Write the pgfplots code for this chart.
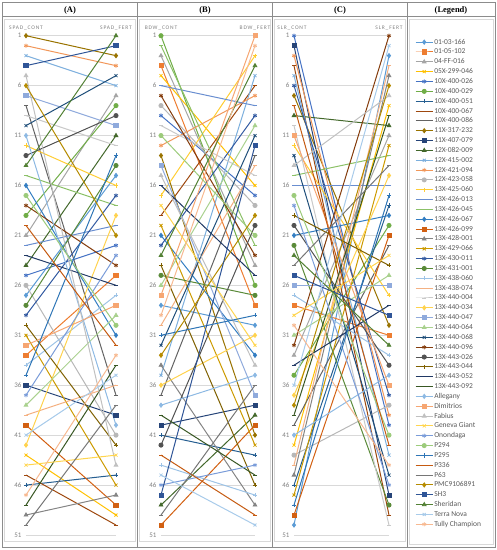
\documentclass[border=0pt]{standalone}
\usepackage{fontspec}
\setmainfont{Carlito}
\newfontfamily\hdrfont{Liberation Serif}
\newfontfamily\ttlfont[LetterSpace=15]{Carlito}
\usepackage{pgfplots}
\pgfplotsset{compat=1.18}
\definecolor{gridc}{HTML}{D9D9D9}
\definecolor{tickc}{HTML}{808080}
\definecolor{framec}{HTML}{8C8C8C}
\definecolor{areac}{HTML}{D9D9D9}
\definecolor{legtext}{HTML}{595959}
\newcommand\defg[3]{\definecolor{c#1}{HTML}{#2}\tikzset{g#1/.style={color=c#1,line width=1pt,mark=#3,mark size=2.1pt,mark options={solid,fill=c#1,line width=0.8pt}}}}
\defg{1}{5B9BD5}{diamond*}
\defg{2}{ED7D31}{square*}
\defg{3}{A5A5A5}{triangle*}
\defg{4}{FFC000}{x}
\defg{5}{4472C4}{asterisk}
\defg{6}{70AD47}{*}
\defg{7}{255E91}{+}
\defg{8}{9E480E}{-}
\defg{9}{636363}{-}
\defg{10}{997300}{diamond*}
\defg{11}{264478}{square*}
\defg{12}{43682B}{triangle*}
\defg{13}{7CAFDD}{x}
\defg{14}{F1975A}{asterisk}
\defg{15}{B7B7B7}{*}
\defg{16}{FFCD33}{+}
\defg{17}{698ED0}{-}
\defg{18}{8CC168}{-}
\defg{19}{327DC2}{diamond*}
\defg{20}{D26012}{square*}
\defg{21}{848484}{triangle*}
\defg{22}{CC9A00}{x}
\defg{23}{335AA1}{asterisk}
\defg{24}{5A8A39}{*}
\defg{25}{9DC3E6}{+}
\defg{26}{F4B183}{-}
\defg{27}{C9C9C9}{-}
\defg{28}{FFD24D}{diamond*}
\defg{29}{8FAADC}{square*}
\defg{30}{A9D18E}{triangle*}
\defg{31}{1F4E79}{x}
\defg{32}{843C0C}{asterisk}
\defg{33}{525252}{*}
\defg{34}{7F6000}{+}
\defg{35}{203864}{-}
\defg{36}{385723}{-}
\defg{37}{8DB9E3}{diamond*}
\defg{38}{F6A672}{square*}
\defg{39}{C0C0C0}{triangle*}
\defg{40}{FFD54F}{x}
\defg{41}{7A9CD9}{asterisk}
\defg{42}{9CCB7B}{*}
\defg{43}{2E75B6}{+}
\defg{44}{C55A11}{-}
\defg{45}{767676}{-}
\defg{46}{B58B00}{diamond*}
\defg{47}{2F5597}{square*}
\defg{48}{538135}{triangle*}
\defg{49}{A8CBEA}{x}
\defg{50}{F7B991}{asterisk}
\newcommand\SP[3]{\addplot[g#1] coordinates {(0,#2) (1,#3)};}
\pgfplotsset{panel/.style={scale only axis, height=499.3pt, xmin=0, xmax=1, ymin=1, ymax=51,
  y dir=reverse, clip=false, axis line style={draw=none}, xtick=\empty, ytick={1,6,...,51},
  ymajorgrids, grid style={draw=gridc, line width=0.75pt}, major tick length=0pt,
  yticklabel style={font=\fontsize{7}{8}\selectfont, text=tickc, xshift=-1pt},
  /pgf/number format/assume math mode=true, anchor=north west}}
\newcommand\ttl{\ttlfont\fontsize{5.5}{6}\selectfont}
\begin{document}
\begin{tikzpicture}
\path (0pt,0pt) rectangle (497pt,550pt);
% chart area borders
\draw[areac, line width=0.6pt] (4.5pt,8.5pt) rectangle (135.5pt,531pt);
\draw[areac, line width=0.6pt] (139.5pt,8.5pt) rectangle (270.5pt,531pt);
\draw[areac, line width=0.6pt] (274.5pt,8.5pt) rectangle (405.5pt,531pt);
\draw[areac, line width=0.6pt] (409.5pt,6pt) rectangle (493pt,531pt);
% panel A
\begin{axis}[panel, at={(26pt,514.3pt)}, width=90pt]
\node[font=\ttl, text=tickc, anchor=base] at ([yshift=6pt]axis description cs:0,1) {SPAD\_CONT};
\node[font=\ttl, text=tickc, anchor=base] at ([yshift=6pt]axis description cs:1,1) {SPAD\_FERT};
\SP{1}{27}{15}\SP{2}{33}{25}\SP{3}{21}{7}\SP{4}{43}{49}\SP{5}{25}{22}
\SP{6}{19}{8}\SP{7}{46}{45}\SP{8}{45}{50}\SP{9}{8}{37}\SP{10}{1}{3}
\SP{11}{36}{39}\SP{12}{24}{11}\SP{13}{3}{6}\SP{14}{2}{4}\SP{15}{26}{41}
\SP{16}{12}{16}\SP{17}{22}{20}\SP{18}{15}{18}\SP{19}{16}{31}\SP{20}{40}{48}
\SP{21}{49}{47}\SP{22}{31}{46}\SP{23}{29}{17}\SP{24}{28}{14}\SP{25}{34}{27}
\SP{26}{39}{36}\SP{27}{9}{12}\SP{28}{42}{19}\SP{29}{7}{10}\SP{30}{38}{29}
\SP{31}{10}{5}\SP{32}{18}{24}\SP{33}{13}{9}\SP{34}{30}{42}\SP{35}{23}{26}
\SP{36}{48}{34}\SP{37}{11}{40}\SP{38}{32}{28}\SP{39}{5}{44}\SP{40}{44}{43}
\SP{41}{37}{23}\SP{42}{17}{30}\SP{43}{35}{13}\SP{44}{20}{32}\SP{45}{50}{38}
\SP{46}{6}{21}\SP{47}{4}{2}\SP{48}{14}{1}\SP{49}{41}{35}\SP{50}{47}{33}
\end{axis}
% panel B
\begin{axis}[panel, at={(161pt,514.3pt)}, width=94pt]
\node[font=\ttl, text=tickc, anchor=base] at ([yshift=6pt]axis description cs:0,1) {BDW\_CONT};
\node[font=\ttl, text=tickc, anchor=base] at ([yshift=6pt]axis description cs:1,1) {BDW\_FERT};
\SP{1}{28}{30}\SP{2}{4}{28}\SP{3}{3}{24}\SP{4}{5}{16}\SP{5}{9}{17}
\SP{6}{1}{26}\SP{7}{41}{43}\SP{8}{19}{6}\SP{9}{37}{13}\SP{10}{13}{41}
\SP{11}{40}{38}\SP{12}{48}{39}\SP{13}{35}{5}\SP{14}{12}{7}\SP{15}{8}{18}
\SP{16}{17}{3}\SP{17}{6}{8}\SP{18}{2}{22}\SP{19}{21}{33}\SP{20}{50}{40}
\SP{21}{34}{48}\SP{22}{20}{42}\SP{23}{22}{9}\SP{24}{25}{27}\SP{25}{44}{47}
\SP{26}{30}{14}\SP{27}{10}{15}\SP{28}{36}{31}\SP{29}{14}{37}\SP{30}{26}{10}
\SP{31}{32}{11}\SP{32}{7}{23}\SP{33}{42}{20}\SP{34}{24}{46}\SP{35}{16}{25}
\SP{36}{39}{45}\SP{37}{38}{35}\SP{38}{27}{1}\SP{39}{15}{34}\SP{40}{18}{32}
\SP{41}{46}{44}\SP{42}{11}{21}\SP{43}{31}{29}\SP{44}{43}{49}\SP{45}{49}{36}
\SP{46}{33}{19}\SP{47}{47}{12}\SP{48}{23}{4}\SP{49}{45}{50}\SP{50}{29}{2}
\end{axis}
% panel C
\begin{axis}[panel, at={(294pt,514.3pt)}, width=95pt]
\node[font=\ttl, text=tickc, anchor=base] at ([xshift=-2pt,yshift=6pt]axis description cs:0,1) {SLR\_CONT};
\node[font=\ttl, text=tickc, anchor=base] at ([yshift=6pt]axis description cs:1,1) {SLR\_FERT};
\SP{1}{50}{3}\SP{2}{28}{31}\SP{3}{33}{11}\SP{4}{42}{8}\SP{5}{1}{40}
\SP{6}{35}{20}\SP{7}{46}{18}\SP{8}{4}{49}\SP{9}{40}{22}\SP{10}{7}{30}
\SP{11}{2}{47}\SP{12}{9}{10}\SP{13}{5}{43}\SP{14}{3}{39}\SP{15}{43}{38}
\SP{16}{12}{27}\SP{17}{16}{16}\SP{18}{15}{13}\SP{19}{21}{19}\SP{20}{49}{21}
\SP{21}{45}{5}\SP{22}{47}{12}\SP{23}{6}{37}\SP{24}{22}{48}\SP{25}{27}{33}
\SP{26}{44}{4}\SP{27}{10}{50}\SP{28}{37}{15}\SP{29}{26}{26}\SP{30}{31}{25}
\SP{31}{13}{45}\SP{32}{32}{1}\SP{33}{20}{34}\SP{34}{19}{24}\SP{35}{34}{28}
\SP{36}{39}{9}\SP{37}{41}{35}\SP{38}{11}{36}\SP{39}{14}{7}\SP{40}{29}{23}
\SP{41}{18}{46}\SP{42}{17}{41}\SP{43}{48}{17}\SP{44}{8}{42}\SP{45}{24}{14}
\SP{46}{38}{6}\SP{47}{25}{29}\SP{48}{23}{32}\SP{49}{36}{2}\SP{50}{30}{44}
\end{axis}
% legend
\begin{axis}[at={(0pt,0pt)}, anchor=south west, scale only axis, width=497pt, height=550pt,
  hide axis, xmin=0, xmax=1, ymin=0, ymax=1, legend cell align=left,
  legend style={at={(0.835,0.931)}, anchor=north west, draw=none, fill=none, inner sep=0pt,
    row sep=1.84pt, font=\fontsize{7.5}{8}\selectfont, text=legtext,
    nodes={inner ysep=0pt, inner xsep=1pt, text height=6pt, text depth=2pt}}]
\addlegendimage{g1}\addlegendimage{g2}\addlegendimage{g3}\addlegendimage{g4}\addlegendimage{g5}
\addlegendimage{g6}\addlegendimage{g7}\addlegendimage{g8}\addlegendimage{g9}\addlegendimage{g10}
\addlegendimage{g11}\addlegendimage{g12}\addlegendimage{g13}\addlegendimage{g14}\addlegendimage{g15}
\addlegendimage{g16}\addlegendimage{g17}\addlegendimage{g18}\addlegendimage{g19}\addlegendimage{g20}
\addlegendimage{g21}\addlegendimage{g22}\addlegendimage{g23}\addlegendimage{g24}\addlegendimage{g25}
\addlegendimage{g26}\addlegendimage{g27}\addlegendimage{g28}\addlegendimage{g29}\addlegendimage{g30}
\addlegendimage{g31}\addlegendimage{g32}\addlegendimage{g33}\addlegendimage{g34}\addlegendimage{g35}
\addlegendimage{g36}\addlegendimage{g37}\addlegendimage{g38}\addlegendimage{g39}\addlegendimage{g40}
\addlegendimage{g41}\addlegendimage{g42}\addlegendimage{g43}\addlegendimage{g44}\addlegendimage{g45}
\addlegendimage{g46}\addlegendimage{g47}\addlegendimage{g48}\addlegendimage{g49}\addlegendimage{g50}
\legend{01-03-166,01-05-102,04-FF-016,05X-299-046,10X-400-026,10X-400-029,10X-400-051,10X-400-067,10X-400-086,11X-317-232,
11X-407-079,12X-082-009,12X-415-002,12X-421-094,12X-423-058,13X-425-060,13X-426-013,13X-426-045,13X-426-067,13X-426-099,
13X-428-001,13X-429-066,13X-430-011,13X-431-001,13X-438-060,13X-438-074,13X-440-004,13X-440-034,13X-440-047,13X-440-064,
13X-440-068,13X-440-096,13X-443-026,13X-443-044,13X-443-052,13X-443-092,Allegany,Dimitrios,Fabius,Geneva Giant,
Onondaga,P294,P295,P336,P63,PMC9106891,SH3,Sheridan,Terra Nova,Tully Champion}
\end{axis}
% table frame
\draw[framec, line width=1pt] (2.5pt,2pt) rectangle (495pt,547.5pt);
\draw[framec, line width=1pt] (2.5pt,533pt) -- (495pt,533pt);
\foreach \xx in {137.5,272.5,407.5} \draw[framec, line width=1.2pt] (\xx pt,2pt) -- (\xx pt,547.5pt);
\node[font=\hdrfont\bfseries\fontsize{8.5}{10}\selectfont] at (70pt,539.5pt) {(A)};
\node[font=\hdrfont\bfseries\fontsize{8.5}{10}\selectfont] at (205pt,539.5pt) {(B)};
\node[font=\hdrfont\bfseries\fontsize{8.5}{10}\selectfont] at (340pt,539.5pt) {(C)};
\node[font=\hdrfont\bfseries\fontsize{8.5}{10}\selectfont] at (451pt,539.5pt) {(Legend)};
\end{tikzpicture}
\end{document}
